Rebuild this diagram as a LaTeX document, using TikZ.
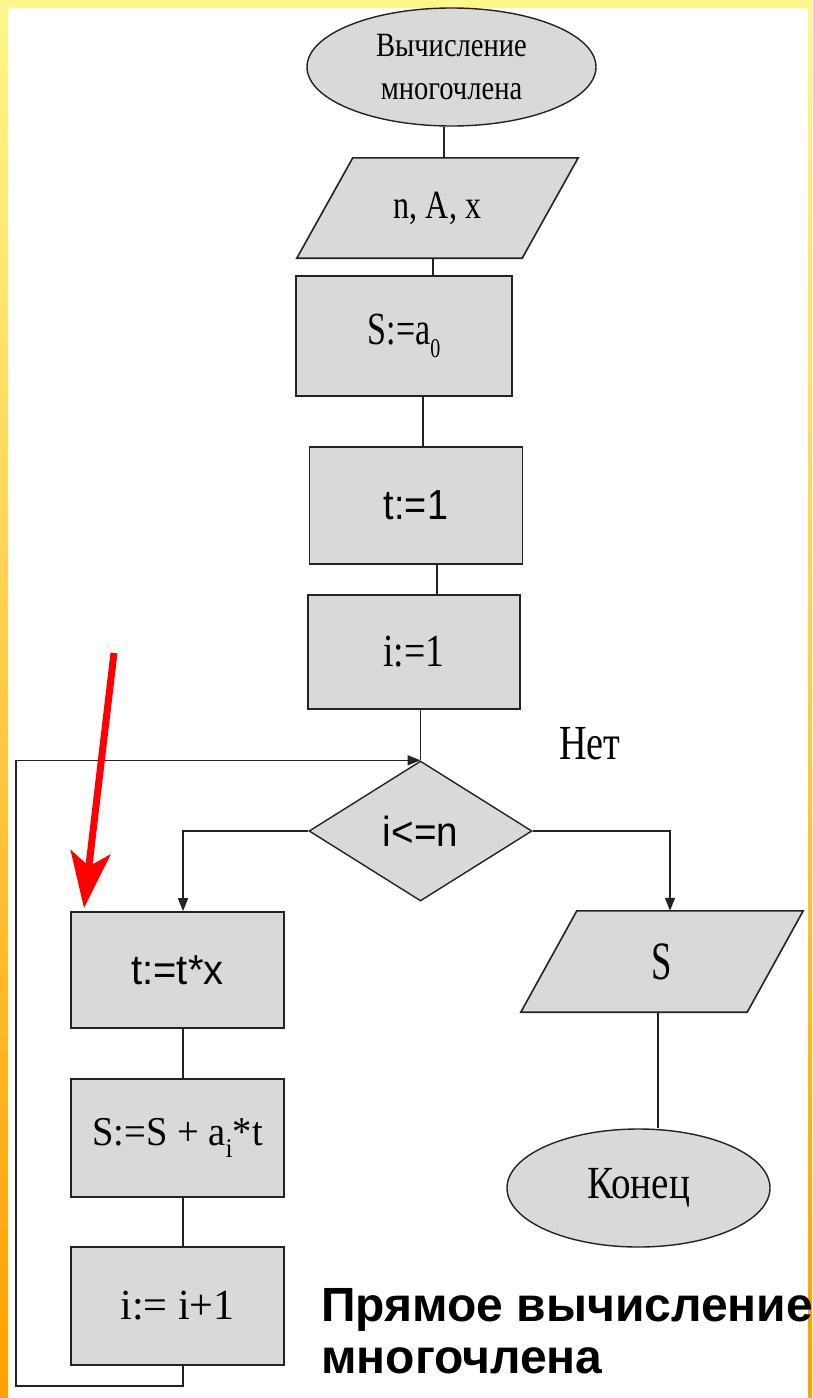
\documentclass[tikz,border=0pt]{standalone}
\usepackage{fontspec}
\usepackage{graphicx}
\setmainfont{Liberation Serif}
\newfontfamily\sansf{Liberation Sans}
\usetikzlibrary{shapes.geometric,arrows.meta,calc}

\definecolor{boxgray}{RGB}{217,217,217}
\definecolor{edgecol}{RGB}{35,35,35}
\definecolor{frameyellow}{RGB}{255,246,140}
\definecolor{framemid}{RGB}{255,208,85}
\definecolor{frameorange}{RGB}{255,160,0}

% font size helper and horizontal squeeze of a label
\newcommand\fsz[2]{\fontsize{#1}{#2}\selectfont}
\newcommand\nx[2]{\scalebox{#1}[1]{#2}}
\newcommand\lowsub[1]{\raisebox{-0.28em}{\fontsize{27}{27}\selectfont #1}}

\pgfdeclarelayer{back}
\pgfdeclarelayer{fills}
\pgfsetlayers{back,fills,main}

\begin{document}
\begin{tikzpicture}[x=1pt,y=-1pt,
  proc/.style={rectangle, draw=edgecol, fill=boxgray, line width=1.7pt, inner sep=0pt},
  term/.style={ellipse, draw=edgecol, fill=boxgray, line width=1.4pt, inner sep=0pt},
  decision/.style={diamond, draw=edgecol, fill=boxgray, line width=1.4pt, inner sep=0pt},
  iobox/.style={rectangle, draw=none, inner sep=0pt, minimum width=225pt, minimum height=100pt},
  ioshape/.style={draw=edgecol, fill=boxgray, line width=1.6pt, line join=miter},
  conn/.style={draw=edgecol, line width=1.6pt},
  flow/.style={conn, -{Triangle[length=13pt,width=10pt]}},
  serifbig/.style={font=\fsz{46}{50}},
  sansbig/.style={font=\sansf\fsz{42}{48}}
]
\useasboundingbox (0,0) rectangle (812,1398);

% page and frame
\begin{pgfonlayer}{back}
  \fill[white] (0,0) rectangle (812,1398);
  \fill[frameyellow] (0,0) rectangle (812,8);
  \shade[top color=frameyellow, middle color=framemid, bottom color=frameorange] (0,8) rectangle (8,1398);
  \shade[top color=frameyellow, middle color=framemid, bottom color=frameorange] (808.5,8) rectangle (812,1398);
\end{pgfonlayer}

% main column
\node[term, minimum width=289pt, minimum height=118pt, align=center, font=\fsz{34}{43}]
  (start) at (451.5,67) {\nx{0.84}{Вычисление}\\\nx{0.84}{многочлена}};
\node[iobox, font=\fsz{40}{44}] (in) at (437.5,208) {\nx{0.8}{n, A, x}};
\node[proc, serifbig, minimum width=216pt, minimum height=120pt] (s0) at (404,336) {\nx{0.74}{S:=a\lowsub{0}}};
\node[proc, sansbig, minimum width=213pt, minimum height=117pt] (t1) at (416,505.5) {\nx{0.9}{t:=1}};
\node[proc, serifbig, minimum width=212pt, minimum height=114pt] (i1) at (414,652) {\nx{0.82}{i:=1}};
\node[decision, sansbig, minimum width=223pt, minimum height=140pt] (cond) at (420.5,831) {\nx{0.92}{i<=n}};

% loop body
\node[proc, sansbig, minimum width=213pt, minimum height=116pt] (tx) at (177.5,970) {\nx{0.95}{t:=t*x}};
\node[proc, font=\fsz{41}{46}, minimum width=213pt, minimum height=118pt] (sai) at (177.5,1138) {\nx{0.94}{S:=S + a\lowsub{i}*t}};
\node[proc, font=\fsz{43}{48}, minimum width=213pt, minimum height=118pt] (inc) at (177.5,1306) {\nx{0.98}{i:= i+1}};

% exit branch
\node[iobox, font=\fsz{54}{58}, minimum width=226pt, minimum height=101pt] (out) at (662,961.5) {\nx{0.68}{S}};
\node[term, minimum width=263pt, minimum height=118pt, font=\fsz{46}{50}] (end) at (638.5,1188) {\nx{0.85}{Конец}};
\node[font=\fsz{49}{52}] (no) at (590,744) {\nx{0.78}{Нет}};

% parallelogram outlines behind the input/output labels
\begin{pgfonlayer}{fills}
  \path[ioshape] ([xshift=-28pt]in.south west) -- ([xshift=-28pt]in.south east)
     -- ([xshift=28pt]in.north east) -- ([xshift=28pt]in.north west) -- cycle;
  \path[ioshape] ([xshift=-28pt]out.south west) -- ([xshift=-28pt]out.south east)
     -- ([xshift=28pt]out.north east) -- ([xshift=28pt]out.north west) -- cycle;
\end{pgfonlayer}

% connectors
\draw[conn] ([xshift=-7.5pt]start.south) -- ([xshift=-7.5pt]start.south |- in.north);
\draw[conn] ([xshift=-4.5pt]in.south) -- ([xshift=-4.5pt]in.south |- s0.north);
\draw[conn] ([xshift=19pt]s0.south) -- ([xshift=19pt]s0.south |- t1.north);
\draw[conn] ([xshift=21pt]t1.south) -- ([xshift=21pt]t1.south |- i1.north);
\draw[conn] (cond.north |- i1.south) -- (cond.north);
\draw[flow] (cond.west) -| ([xshift=5.5pt]tx.north);
\draw[conn] ([xshift=5.5pt]tx.south) -- ([xshift=5.5pt]sai.north);
\draw[conn] ([xshift=5.5pt]sai.south) -- ([xshift=5.5pt]inc.north);
\coordinate (loopcorner) at (16,1386);
\draw[flow] ([xshift=5.5pt]inc.south) |- (loopcorner) |- (cond.north);
\draw[flow] (cond.east) -| ([xshift=8pt]out.north);
\draw[conn] ([xshift=-4pt]out.south) -- ([xshift=-4pt]out.south |- end.north);

% pointer
\coordinate (ptrfrom) at (114,653);
\coordinate (ptrto) at (84,908);
\draw[red, line width=7pt, -{Stealth[length=56pt,width=40pt,inset=14pt]}] (ptrfrom) -- (ptrto);

% caption (anchored on the baseline of its last line)
\node[anchor=base west, align=left, inner sep=0pt, font=\sansf\bfseries\fsz{48}{52}]
  (caption) at (321,1373) {Прямое вычисление\\многочлена};
\end{tikzpicture}
\end{document}
